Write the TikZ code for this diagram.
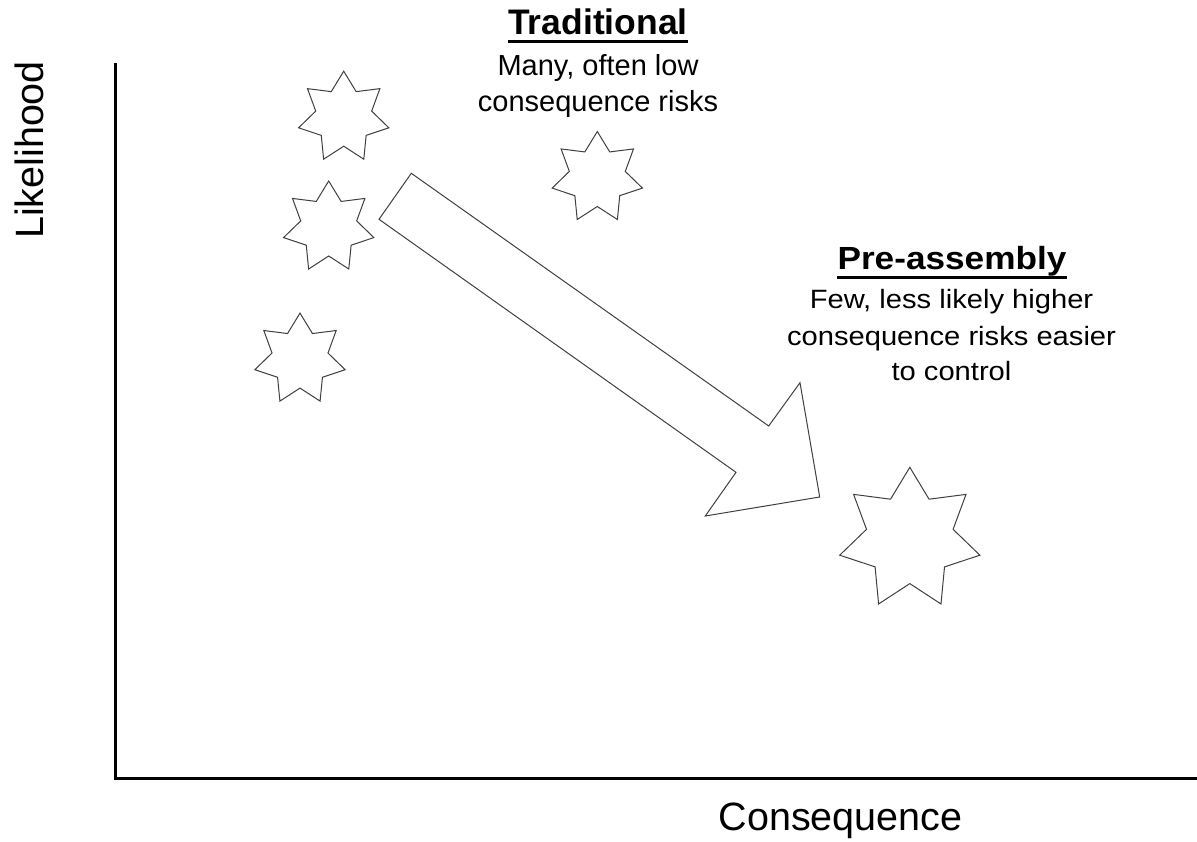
\documentclass[tikz,border=0pt]{standalone}
\usepackage{fontspec}
\setmainfont{Liberation Sans}
\usetikzlibrary{calc}
\tikzset{
  axis/.style={line width=3pt, line cap=rect},
  shapeline/.style={draw=black!75, line width=1pt, line join=miter, fill=white},
  body/.style={inner sep=0pt, anchor=base, font=\fontsize{29}{29}\selectfont},
  pbody/.style={inner sep=0pt, anchor=base, font=\fontsize{26.5}{26.5}\selectfont, xscale=1.1},
  head/.style={inner sep=0pt, anchor=base, font=\fontsize{35.5}{35.5}\selectfont\bfseries},
  phead/.style={inner sep=0pt, anchor=base, font=\fontsize{32}{32}\selectfont\bfseries, xscale=1.1},
  axlabel/.style={inner sep=0pt, anchor=base, font=\fontsize{39.5}{39.5}\selectfont},
  uline/.style={line width=2.6pt},
  pics/sevenstar/.style args={#1/#2}{code={
    \draw[shapeline] (90:#1pt)
      \foreach \k in {0,...,5}{ -- ({90+\k*360/7+180/7}:#2pt) -- ({90+(\k+1)*360/7}:#1pt) }
      -- ({90+6*360/7+180/7}:#2pt) -- cycle;
  }}
}
\begin{document}
\begin{tikzpicture}[x=1pt,y=-1pt]
\useasboundingbox (0,0) rectangle (1197,842);
% axes
\coordinate (ytop) at (115,65);
\coordinate (origin) at (115,778);
\coordinate (xend) at (1197,778);
\draw[axis] (ytop) -- (origin) -- (xend);
\node[axlabel] (xlab) at (840.5,830) {Consequence};
\node[axlabel, rotate=90] (ylab) at (43,150) {Likelihood};
% stars
\pic (s1) at (343.7,117.5) {sevenstar={46.3/28.7}};
\pic (s2) at (328.7,227.3) {sevenstar={46.3/28.7}};
\pic (s3) at (300,359.4) {sevenstar={46.3/28.7}};
\pic (s4) at (597.3,177.8) {sevenstar={46.3/28.7}};
\pic (s5) at (909.8,539.2) {sevenstar={71.9/44.4}};
% big arrow
\coordinate (a1) at (411.3,173.3);
\coordinate (a2) at (768.7,426);
\coordinate (a3) at (800,382.7);
\coordinate (a4) at (819.7,497);
\coordinate (a5) at (705.3,516);
\coordinate (a6) at (736,472.3);
\coordinate (a7) at (379,219.3);
\draw[shapeline] (a1) -- (a2) -- (a3) -- (a4) -- (a5) -- (a6) -- (a7) -- cycle;
% Traditional text
\node[head] (trad) at (598,35) {Traditional};
\draw[uline] ([yshift=-6.7pt]trad.base west) -- ([yshift=-6.7pt]trad.base east);
\node[body] (trad1) at (598,76) {Many, often low};
\node[body] (trad2) at (598,111.7) {consequence risks};
% Pre-assembly text
\node[phead] (pre) at (952,270) {Pre-assembly};
\draw[uline] ([yshift=-7.3pt]pre.base west) -- ([yshift=-7.3pt]pre.base east);
\node[pbody] (pre1) at (951.5,309) {Few, less likely higher};
\node[pbody] (pre2) at (951.5,345) {consequence risks easier};
\node[pbody] (pre3) at (951.5,381) {to control};
\end{tikzpicture}
\end{document}
